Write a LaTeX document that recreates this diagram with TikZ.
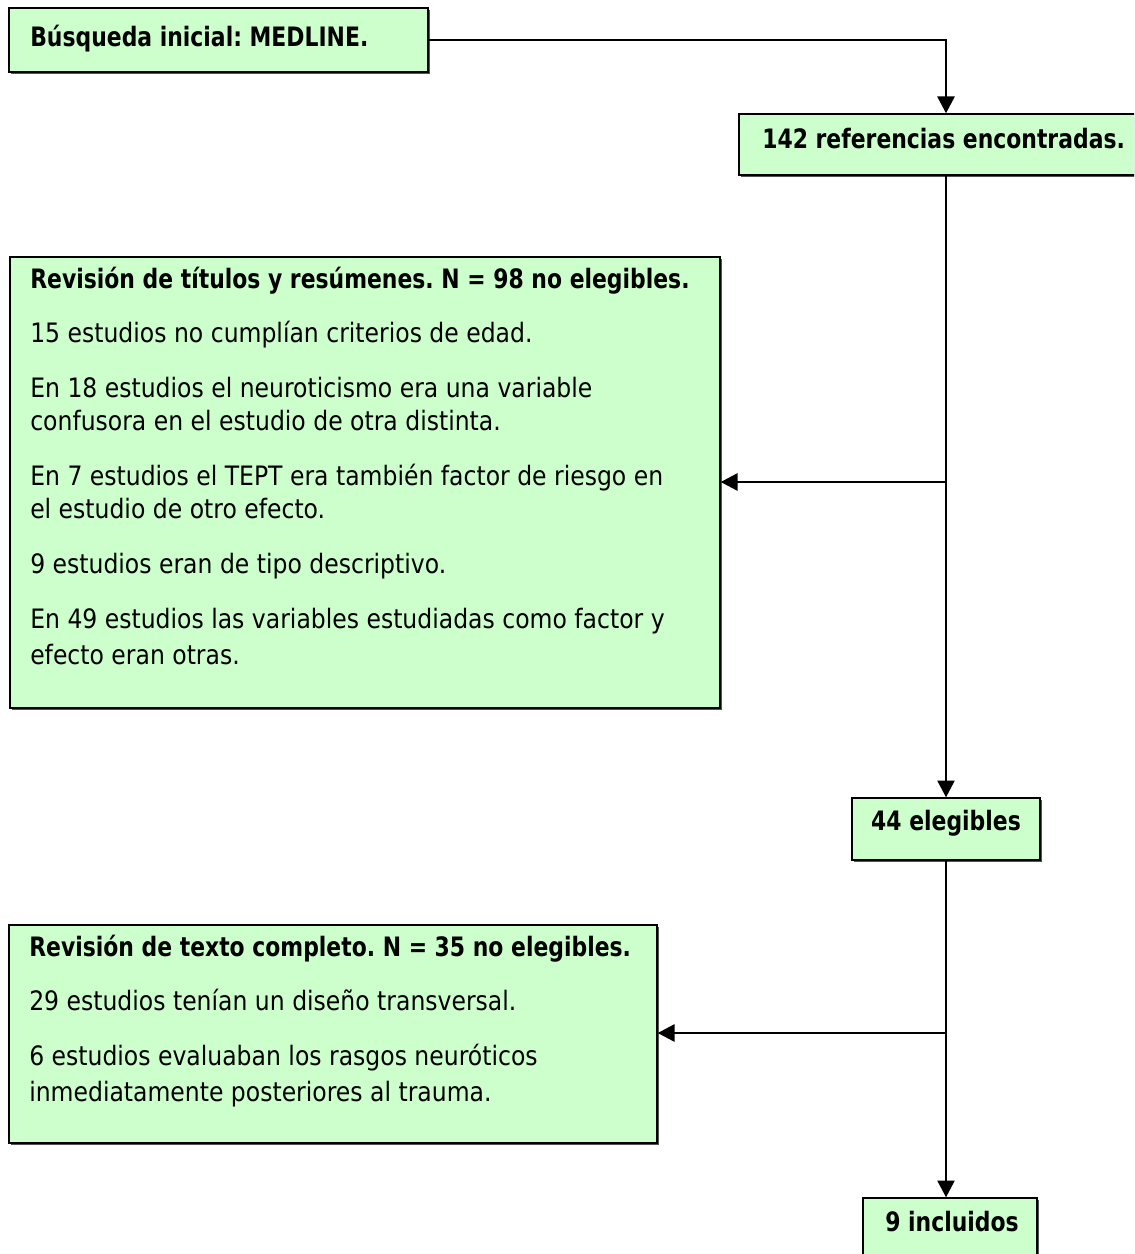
\documentclass[tikz,border=0pt]{standalone}
\usepackage{fontspec}
\setmainfont{DejaVu Sans}[FakeStretch=0.88, BoldFeatures={FakeStretch=0.82}]
\usetikzlibrary{arrows.meta,positioning,shadows,fit}

\definecolor{boxgreen}{HTML}{CCFFCC}

\tikzset{
	box/.style={draw=black, line width=0.9pt, fill=boxgreen, inner sep=0pt,
		drop shadow={shadow xshift=1.3pt, shadow yshift=-1.3pt, fill=black!75, opacity=0.9}},
	txt/.style={inner sep=0pt, align=left, font=\fontsize{19}{23.5}\selectfont},
	boldtxt/.style={txt, font=\fontsize{19}{23.5}\selectfont\bfseries},
	flow/.style={line width=2.1pt, -{Triangle[length=12pt,width=12pt]}},
}

\begin{document}
\frenchspacing
\begin{tikzpicture}[x=0.025cm, y=-0.025cm]
	\useasboundingbox (0,0) rectangle (1134,1254);
	\clip (0,0) rectangle (1134,1254);

	% boxes
	\node[box, fit={(9,8) (428,72)}] (start) {};
	\node[box, fit={(739,114) (1153,175)}] (refs) {};
	\node[box, fit={(10,257) (720,708)}] (rev1) {};
	\node[box, fit={(852,798) (1040,860)}] (eleg) {};
	\node[box, fit={(9,925) (657,1143)}] (rev2) {};
	\node[box, fit={(863,1198) (1037,1290)}] (incl) {};

	% texts
	\node[boldtxt, anchor=base west] (starttxt) at (30,47) {\addfontfeatures{FakeStretch=0.9}Búsqueda inicial: MEDLINE.};
	\node[boldtxt, anchor=base west] (refstxt) at (762,149) {142 referencias encontradas.};
	\node[boldtxt, anchor=base] (elegtxt) at (946,830) {44 elegibles};
	\node[boldtxt, anchor=base west] (incltxt) at (885,1231) {9 incluidos};

	\node[txt, anchor=north west] (rev1txt) at (30,264.9) {\strut\textbf{Revisión de títulos y resúmenes. N = 98 no elegibles.}\\[14.9pt]
		15 estudios no cumplían criterios de edad.\\[15.6pt]
		En 18 estudios el neuroticismo era una variable\\
		confusora en el estudio de otra distinta.\\[15.6pt]
		En 7 estudios el TEPT era también factor de riesgo en\\
		el estudio de otro efecto.\\[15.6pt]
		9 estudios eran de tipo descriptivo.\\[15.6pt]
		En 49 estudios las variables estudiadas como factor y\\[2.1pt]
		efecto eran otras.};

	\node[txt, anchor=north west] (rev2txt) at (29,932.9) {\strut\textbf{Revisión de texto completo. N = 35 no elegibles.}\\[14.9pt]
		29 estudios tenían un diseño transversal.\\[15.6pt]
		6 estudios evaluaban los rasgos neuróticos\\[2.1pt]
		inmediatamente posteriores al trauma.};

	% connectors
	\coordinate (split1) at (946,482);
	\coordinate (split2) at (946,1033);

	\draw[flow] (start.east) -| (refs.north);
	\draw[flow] (refs.south) -- (refs.south |- eleg.north);
	\draw[flow] (split1) -- (rev1.east |- split1);
	\draw[flow] (eleg.south) -- (eleg.south |- incl.north);
	\draw[flow] (split2) -- (rev2.east |- split2);
\end{tikzpicture}
\end{document}
